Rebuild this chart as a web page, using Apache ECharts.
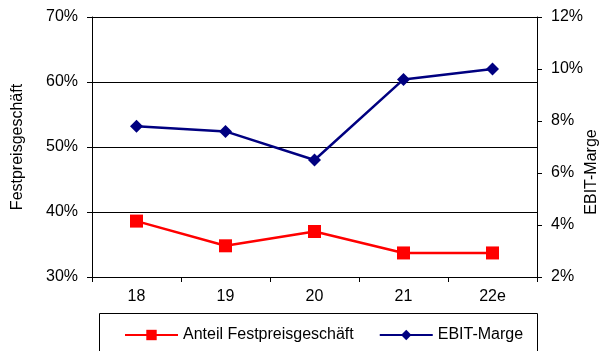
<!DOCTYPE html>
<html>
<head>
<meta charset="utf-8">
<script src="https://cdn.jsdelivr.net/npm/echarts@6/dist/echarts.min.js"></script>
<style>
  html, body { margin: 0; padding: 0; background: #fff; }
  #chart { width: 601px; height: 351px; }
</style>
</head>
<body>
<div id="chart"></div>
<script>
// Jahre (Geschäftsjahre, 22e = Schätzung)
const years = ['18', '19', '20', '21', '22e'];
// Anteil Festpreisgeschäft in %
const fixedPriceShare = [38.6, 34.8, 37.0, 33.7, 33.7];
// EBIT-Marge in %
const ebitMargin = [7.8, 7.6, 6.5, 9.6, 10.0];

const FONT = '"Liberation Sans", Arial, sans-serif';
const FS = 16;
const chart = echarts.init(document.getElementById('chart'), null, { renderer: 'canvas' });

chart.setOption({
  animation: false,
  backgroundColor: '#ffffff',
  textStyle: { fontFamily: FONT, color: '#000' },
  grid: { left: 92, right: 64, top: 17, bottom: 74, outerBoundsMode: 'none', containLabel: false },
  xAxis: {
    type: 'category',
    data: years,
    boundaryGap: true,
    axisLine: { lineStyle: { color: '#000', width: 1 } },
    axisTick: { show: true, length: 5, lineStyle: { color: '#000' } },
    axisLabel: { color: '#000', fontSize: FS, fontFamily: FONT, margin: 12 }
  },
  yAxis: [
    {
      type: 'value',
      min: 30, max: 70, interval: 10,
      position: 'left',
      name: 'Festpreisgeschäft',
      nameLocation: 'middle',
      nameRotate: 90,
      nameGap: 66,
      nameTextStyle: { color: '#000', fontSize: FS, fontFamily: FONT },
      axisLine: { show: true, lineStyle: { color: '#000', width: 1 } },
      axisTick: { show: true, length: 5, lineStyle: { color: '#000' } },
      axisLabel: { color: '#000', fontSize: FS, fontFamily: FONT, margin: 14, formatter: v => v + '%' },
      splitLine: { show: true, lineStyle: { color: '#000', width: 1 } }
    },
    {
      type: 'value',
      min: 2, max: 12, interval: 2,
      position: 'right',
      axisLine: { show: true, lineStyle: { color: '#000', width: 1 } },
      axisTick: { show: true, length: 5, lineStyle: { color: '#000' } },
      axisLabel: { color: '#000', fontSize: FS, fontFamily: FONT, margin: 14, formatter: v => v + '%' },
      splitLine: { show: false }
    }
  ],
  legend: {
    left: 124,
    top: 327,
    padding: 0,
    itemWidth: 53,
    itemHeight: 13,
    itemGap: 25,
    textStyle: { color: '#000', fontSize: FS, fontFamily: FONT },
    data: ['Anteil Festpreisgeschäft', 'EBIT-Marge']
  },
  graphic: [
    {
      type: 'rect',
      shape: { x: 99.5, y: 313.5, width: 438, height: 60 },
      style: { fill: 'none', stroke: '#000', lineWidth: 1 },
      z: -1
    },
    {
      type: 'text',
      x: 592, y: 172,
      rotation: Math.PI / 2,
      style: {
        text: 'EBIT-Marge',
        fill: '#000',
        font: FS + 'px ' + FONT,
        align: 'center',
        verticalAlign: 'middle'
      }
    }
  ],
  series: [
    {
      name: 'Anteil Festpreisgeschäft',
      type: 'line',
      yAxisIndex: 0,
      data: fixedPriceShare,
      symbol: 'rect',
      symbolSize: 13,
      itemStyle: { color: '#ff0000' },
      lineStyle: { color: '#ff0000', width: 2.5 }
    },
    {
      name: 'EBIT-Marge',
      type: 'line',
      yAxisIndex: 1,
      data: ebitMargin,
      symbol: 'diamond',
      symbolSize: 13,
      itemStyle: { color: '#000080' },
      lineStyle: { color: '#000080', width: 2.5 }
    }
  ]
});
</script>
</body>
</html>
